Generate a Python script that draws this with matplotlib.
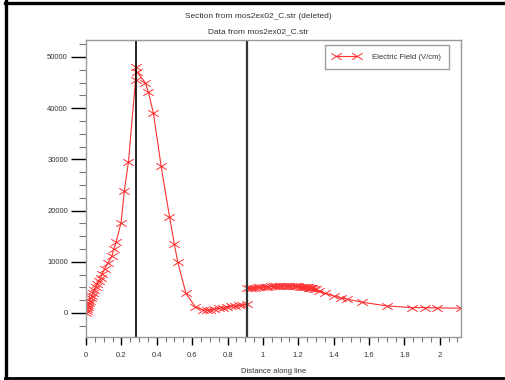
import matplotlib
matplotlib.use("Agg")
import matplotlib.pyplot as plt
from matplotlib.lines import Line2D
from matplotlib.path import Path
from matplotlib.ticker import MultipleLocator

plt.rcParams['font.family'] = ['Liberation Sans', 'DejaVu Sans']

# Data
title_top = "Section from mos2ex02_C.str (deleted)"
title_sub = "Data from mos2ex02_C.str"
series_label = "Electric Field (V/cm)"
x_label = "Distance along line"

dist = [0, 0.003, 0.006, 0.01, 0.014, 0.018, 0.023, 0.028, 0.034, 0.04,
        0.047, 0.055, 0.063, 0.072, 0.082, 0.093, 0.105, 0.125, 0.146, 0.158,
        0.170, 0.198, 0.217, 0.240, 0.28,
        0.28, 0.287, 0.334, 0.353, 0.381, 0.425, 0.472, 0.499, 0.519, 0.565,
        0.618, 0.661, 0.685, 0.703, 0.725, 0.75, 0.775, 0.797, 0.82, 0.844,
        0.865, 0.882, 0.91,
        0.91, 0.925, 0.94, 0.955, 0.97, 0.985, 1.0, 1.015, 1.03, 1.045,
        1.06, 1.075, 1.09, 1.105, 1.12, 1.135, 1.15, 1.165, 1.18, 1.19,
        1.2, 1.21, 1.22, 1.23, 1.24, 1.25, 1.255, 1.26, 1.265, 1.27,
        1.275, 1.28, 1.29, 1.30, 1.32, 1.35, 1.40, 1.44, 1.477, 1.562,
        1.70, 1.845, 1.915, 1.987, 2.12]
efield = [0, 300, 700, 1100, 1500, 1900, 2400, 2900, 3400, 3900,
          4500, 5000, 5600, 6200, 6900, 7700, 8600, 9800, 11100, 12500,
          13800, 17600, 23900, 29500, 45500,
          48100, 47100, 45000, 43100, 39000, 28600, 18800, 13500, 9900, 3800,
          1200, 600, 550, 600, 700, 900, 1000, 1200, 1300, 1400,
          1500, 1560, 1700,
          4800, 4850, 4900, 4950, 5000, 5040, 5080, 5110, 5140, 5170,
          5200, 5220, 5240, 5260, 5270, 5270, 5260, 5250, 5230, 5210,
          5190, 5160, 5130, 5100, 5060, 5010, 4980, 4950, 4920, 4880,
          4840, 4800, 4700, 4580, 4300, 3900, 3300, 2950, 2680, 2090,
          1370, 1040, 1040, 980, 920]
region_bounds = [0.28, 0.91]

# wide cross marker like the original tool draws
wide_x = Path([(-1.6, -1), (1.6, 1), (-1.6, 1), (1.6, -1)],
              [Path.MOVETO, Path.LINETO, Path.MOVETO, Path.LINETO])

W, H = 506, 380
fig = plt.figure(figsize=(W / 100, H / 100), dpi=100)
ax = fig.add_axes([86 / W, 1 - 337 / H, (461 - 86) / W, (337 - 40) / H])

ax.plot(dist, efield, color='#ff3030', lw=0.8, marker=wide_x, ms=7.5, mew=0.7,
        label=series_label)
for b, c, w in zip(region_bounds, ['black', '#333333'], [1.2, 1.6]):
    ax.axvline(b, color=c, lw=w)

ax.set_xlim(0, 2.12)
ax.set_ylim(-4700, 53300)
ax.xaxis.set_major_locator(MultipleLocator(0.2))
ax.xaxis.set_minor_locator(MultipleLocator(0.05))
ax.yaxis.set_major_locator(MultipleLocator(10000))
ax.yaxis.set_minor_locator(MultipleLocator(2500))
ax.xaxis.set_major_formatter(plt.FuncFormatter(lambda v, p: f"{v:g}"))

for s in ax.spines.values():
    s.set_color('#999999')
    s.set_linewidth(1.0)
ax.tick_params(axis='both', which='major', labelsize=5.5, labelcolor='#333333',
               color='black', width=1.0)
ax.tick_params(axis='y', which='major', length=11, pad=2)
ax.tick_params(axis='y', which='minor', length=5, color='#777777', width=0.8)
ax.tick_params(axis='x', which='major', length=6, pad=5)
ax.tick_params(axis='x', which='minor', length=3.5, color='#777777', width=0.8)
ax.set_xlabel(x_label, fontsize=5.5, color='#333333', labelpad=6)

leg = ax.legend(loc='upper right', bbox_to_anchor=(449 / W, 1 - 45 / H),
                bbox_transform=fig.transFigure, borderaxespad=0, fontsize=5.5,
                fancybox=False, edgecolor='#888888', numpoints=2,
                handlelength=3.4, handletextpad=1.6, borderpad=1.1)
leg.get_frame().set_linewidth(1.0)
for t in leg.get_texts():
    t.set_color('#333333')

fig.text(258 / W, 1 - 16 / H, title_top, ha='center', va='center', fontsize=6,
         color='#333333')
fig.text(258 / W, 1 - 32 / H, title_sub, ha='center', va='center', fontsize=6,
         color='#333333')

# outer frame (left, top, bottom)
fig.add_artist(Line2D([6.5 / W, 6.5 / W], [0, 1], color='black', lw=2.4,
                      transform=fig.transFigure))
fig.add_artist(Line2D([5 / W, 1], [1 - 2.5 / H, 1 - 2.5 / H], color='black',
                      lw=2.4, transform=fig.transFigure))
fig.add_artist(Line2D([5 / W, 1], [1 - 378 / H, 1 - 378 / H], color='black',
                      lw=2.0, transform=fig.transFigure))

fig.savefig('out.png', dpi=100)
